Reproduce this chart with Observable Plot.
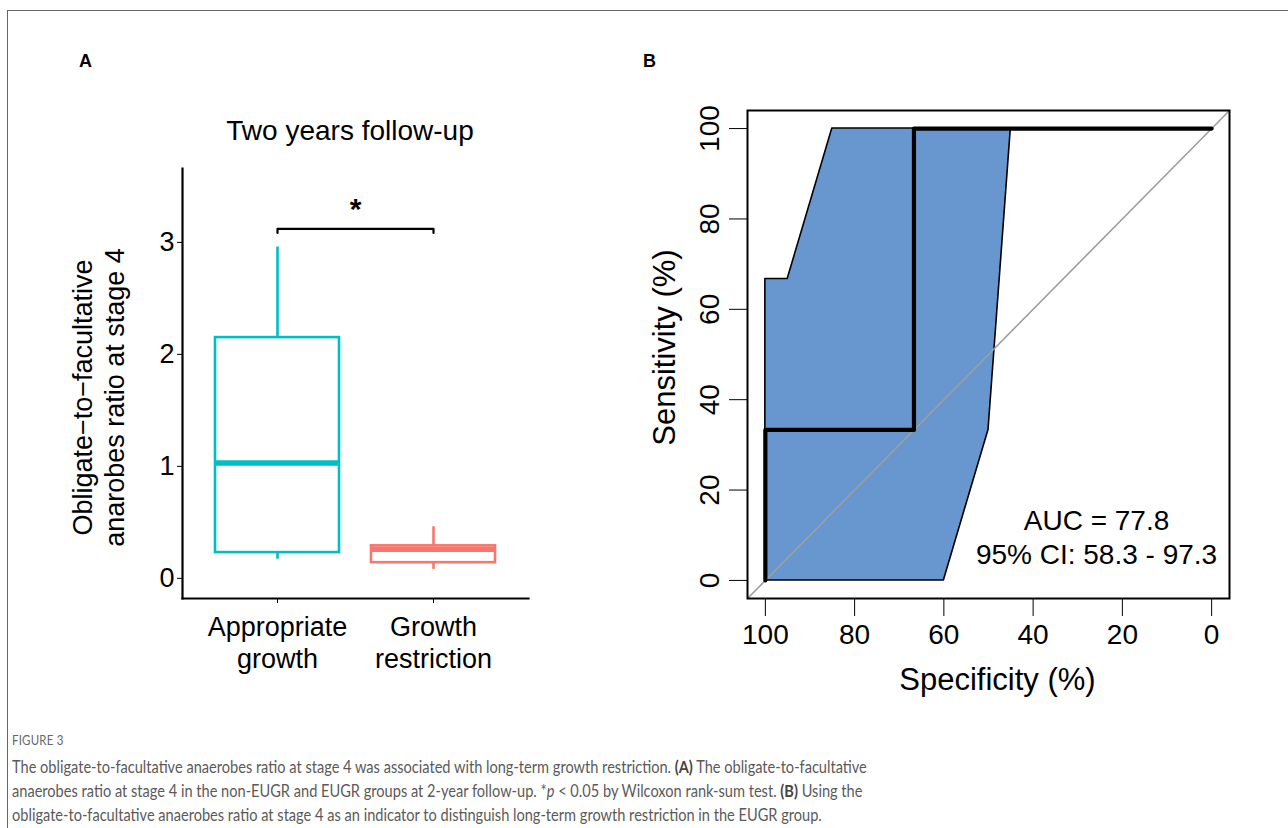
<!DOCTYPE html>
<html>
<head>
<meta charset="utf-8">
<script src="https://cdn.jsdelivr.net/npm/d3@7"></script>
<script src="https://cdn.jsdelivr.net/npm/@observablehq/plot@0.6"></script>
<style>
  body { margin: 0; background: #fff; }
  #root { position: relative; width: 1288px; height: 828px; overflow: hidden; background: #fff;
          font-family: "Liberation Sans", Arial, sans-serif; color: #000; }
  .abs { position: absolute; white-space: nowrap; }
  .border { position: absolute; left: 7px; top: 10px; width: 1400px; height: 900px;
            border-left: 1px solid #666; border-top: 1px solid #666; }
  .panel { font-weight: bold; font-size: 18px; line-height: 18px; }
  .title { font-size: 28px; line-height: 28px; }
  .figlabel { font-family: Lato, "Open Sans", sans-serif; font-size: 12.5px; color: #666; letter-spacing: 0.2px;
              transform: scaleX(0.92); transform-origin: left top; }
  .caption { font-family: Lato, "Open Sans", sans-serif; font-size: 16.4px; line-height: 24px; color: #5a5a5a;
             transform: scaleX(0.89); transform-origin: left top; }
  .caption b { color: #444; }
</style>
</head>
<body>
<div id="root">
  <div class="border"></div>
  <div class="abs panel" style="left:79px; top:52px;">A</div>
  <div class="abs panel" style="left:643px; top:52px;">B</div>
  <div class="abs title" style="left:350px; top:117px; transform:translateX(-50%);">Two years follow-up</div>
  <div id="plotA" class="abs" style="left:0; top:0;"></div>
  <div id="plotB" class="abs" style="left:560px; top:0;"></div>
  <div class="abs figlabel" style="left:12px; top:733px;">FIGURE 3</div>
  <div class="abs caption" style="left:12px; top:755px;">The obligate-to-facultative anaerobes ratio at stage 4 was associated with long-term growth restriction. <b>(A)</b> The obligate-to-facultative<br>anaerobes ratio at stage 4 in the non-EUGR and EUGR groups at 2-year follow-up. *<i>p</i> &lt; 0.05 by Wilcoxon rank-sum test. <b>(B)</b> Using the<br>obligate-to-facultative anaerobes ratio at stage 4 as an indicator to distinguish long-term growth restriction in the EUGR group.</div>
</div>
<script>
// ---------- Panel A data (box plot summaries) ----------
const groups = ["Appropriate growth", "Growth restriction"];
const groupTickLabels = ["Appropriate\ngrowth", "Growth\nrestriction"];
const groupColors = ["#00BFC4", "#F8766D"];
const whiskerLow = [0.17, 0.08];
const quartile1 = [0.23, 0.14];
const medians = [1.03, 0.26];
const quartile3 = [2.15, 0.29];
const whiskerHigh = [2.96, 0.46];
const ratioTicks = [0, 1, 2, 3];
const ratioDomain = [-0.18, 3.66];
const sigLevel = 3.12;
const sigDrop = 0.035;
const sigLabel = "*";
const yLabelA = "Obligate\u2212to\u2212facultative\nanarobes ratio at stage 4";

// ---------- Panel B data (ROC) ----------
const rocSpecificity = [100, 100, 66.7, 66.7, 0];
const rocSensitivity = [0, 33.3, 33.3, 100, 100];
const ciLeftSpecificity = [100, 100, 95, 85];
const ciLeftSensitivity = [0, 66.7, 66.7, 100];
const ciRightSpecificity = [60, 50, 50, 45];
const ciRightSensitivity = [0, 33.3, 33.3, 100];
const pctTicks = [0, 20, 40, 60, 80, 100];
const specDomain = [104, -4];
const sensDomain = [-4, 104];
const aucValue = 77.8;
const ciLow = 58.3, ciHigh = 97.3;

const FONT = '"Liberation Sans", Arial, sans-serif';

// ---------- Panel A ----------
const boxes = groups.map((g, i) => ({
  group: g, wlo: whiskerLow[i], q1: quartile1[i], med: medians[i], q3: quartile3[i], whi: whiskerHigh[i]
}));
const bracket = [
  {group: groups[0], y: sigLevel - sigDrop},
  {group: groups[0], y: sigLevel},
  {group: groups[1], y: sigLevel},
  {group: groups[1], y: sigLevel - sigDrop}
];

const plotA = Plot.plot({
  width: 560, height: 700,
  marginLeft: 182, marginRight: 32, marginTop: 168, marginBottom: 102,
  style: {fontFamily: FONT, fontSize: "27px", color: "#000", background: "transparent", overflow: "visible"},
  x: {domain: groups, padding: 0.204, label: null},
  y: {domain: ratioDomain, label: null},
  color: {domain: groups, range: groupColors},
  marks: [
    Plot.ruleX(boxes, {x: "group", y1: "wlo", y2: "whi", stroke: "group", strokeWidth: 2.6}),
    Plot.barY(boxes, {x: "group", y1: "q1", y2: "q3", fill: "white", stroke: "group", strokeWidth: 2.6}),
    Plot.tickY(boxes, {x: "group", y: "med", stroke: "group", strokeWidth: 5.5}),
    Plot.line(bracket, {x: "group", y: "y", stroke: "#000", strokeWidth: 2.2}),
    Plot.text([sigLabel], {text: d => d, y: sigLevel, dy: -20, fontSize: 30, fontWeight: "bold"}),
    Plot.frame({anchor: "left", stroke: "#000", strokeWidth: 2.2}),
    Plot.frame({anchor: "bottom", stroke: "#000", strokeWidth: 2.2}),
    Plot.axisX({tickSize: 5, tickPadding: 10, fontSize: 27, lineHeight: 1.17, label: null,
                tickFormat: g => groupTickLabels[groups.indexOf(g)]}),
    Plot.axisY({ticks: ratioTicks, tickFormat: d => String(d), tickSize: 5, tickPadding: 3, fontSize: 27, label: null}),
    Plot.text([yLabelA], {text: d => d, frameAnchor: "left", rotate: -90, dx: -85, dy: 14,
                textAnchor: "middle", lineAnchor: "middle", lineHeight: 1.18, fontSize: 27})
  ]
});
document.getElementById("plotA").appendChild(plotA);

// ---------- Panel B ----------
const roc = rocSpecificity.map((s, i) => ({spec: s, sens: rocSensitivity[i]}));
const ciShape = ciLeftSpecificity.map((s, i) => ({
  ls: s, lse: ciLeftSensitivity[i], rs: ciRightSpecificity[i], rse: ciRightSensitivity[i]
}));
const diagonal = specDomain.map(s => ({spec: s, sens: 100 - s}));
const aucLabel = `AUC = ${aucValue.toFixed(1)}\n95% CI: ${ciLow.toFixed(1)} - ${ciHigh.toFixed(1)}`;

const plotB = Plot.plot({
  width: 728, height: 700,
  marginLeft: 187, marginRight: 59, marginTop: 110, marginBottom: 102,
  style: {fontFamily: FONT, fontSize: "28px", color: "#000", background: "transparent", overflow: "visible"},
  x: {domain: specDomain, label: null},
  y: {domain: sensDomain, label: null},
  marks: [
    Plot.area(ciShape, {x1: "ls", y1: "lse", x2: "rs", y2: "rse", fill: "#6897CF", fillOpacity: 1,
                        stroke: "#000", strokeWidth: 1.6}),
    Plot.line(diagonal, {x: "spec", y: "sens", stroke: "#9e9e9e", strokeWidth: 1.6}),
    Plot.line(roc, {x: "spec", y: "sens", stroke: "#000", strokeWidth: 4.2}),
    Plot.frame({stroke: "#000", strokeWidth: 2}),
    Plot.axisX({ticks: pctTicks, tickSize: 18, tickPadding: 8, fontSize: 28, label: null}),
    Plot.axisY({ticks: pctTicks, tickSize: 18, tickPadding: 11, tickRotate: -90, fontSize: 28, label: null}),
    Plot.text(["Specificity (%)"], {text: d => d, frameAnchor: "bottom", dx: 9, dy: 82,
                lineAnchor: "middle", fontSize: 31}),
    Plot.text(["Sensitivity (%)"], {text: d => d, frameAnchor: "left", rotate: -90, dx: -82, dy: -7,
                textAnchor: "middle", lineAnchor: "middle", fontSize: 31}),
    Plot.text([aucLabel], {text: d => d, frameAnchor: "bottom-right", dx: -133, dy: -62,
                textAnchor: "middle", lineAnchor: "middle", lineHeight: 1.2, fontSize: 28})
  ]
});
document.getElementById("plotB").appendChild(plotB);
</script>
</body>
</html>
